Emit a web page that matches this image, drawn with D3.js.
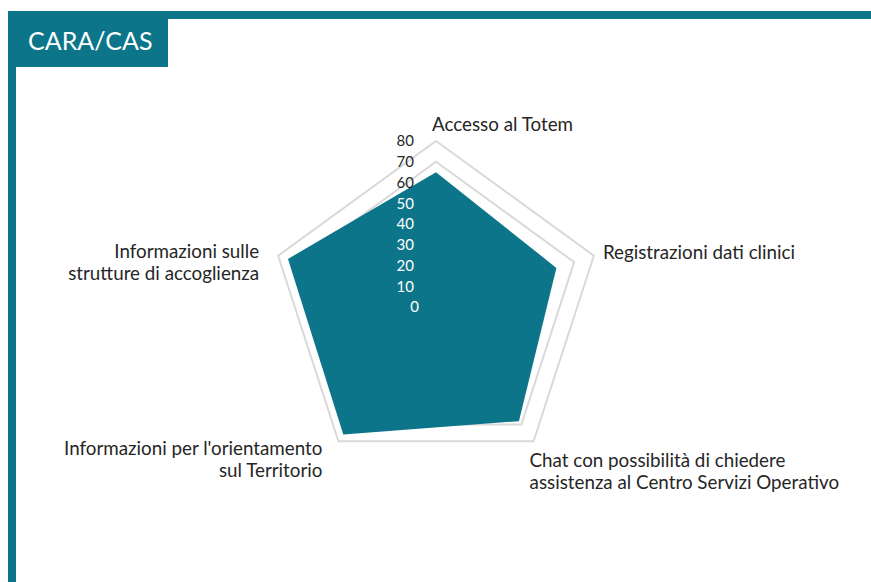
<!DOCTYPE html>
<html><head><meta charset="utf-8">
<script src="https://cdn.jsdelivr.net/npm/d3@7"></script>
<style>
html,body{margin:0;padding:0;background:#fff;}
svg{display:block;font-family:Lato,"Noto Sans",sans-serif;}
</style></head>
<body>
<svg id="c" width="871" height="582"></svg>
<script>
const title = "CARA/CAS";
const categories = [
  ["Accesso al Totem"],
  ["Registrazioni dati clinici"],
  ["Chat con possibilità di chiedere", "assistenza al Centro Servizi Operativo"],
  ["Informazioni per l'orientamento", "sul Territorio"],
  ["Informazioni sulle", "strutture di accoglienza"]
];
const values = [65, 61, 68, 76, 75];
const tickValues = [0, 10, 20, 30, 40, 50, 60, 70, 80];

const teal = "#0c7589";
const textCol = "#262626";
const svg = d3.select("#c");

// frame
svg.append("rect").attr("x", 8).attr("y", 11).attr("width", 863).attr("height", 8).attr("fill", teal);
svg.append("rect").attr("x", 8).attr("y", 11).attr("width", 8).attr("height", 571).attr("fill", teal);
svg.append("rect").attr("x", 8).attr("y", 11).attr("width", 160).attr("height", 56).attr("fill", teal);
svg.append("text").attr("x", 28).attr("y", 50).attr("fill", "#fff")
  .attr("font-size", 25).text(title);

const cx = 436, cy = 307;
const r = d3.scaleLinear().domain([0, 80]).range([0, 166]);
const n = categories.length;
const ang = i => i * 2 * Math.PI / n;
const pt = (i, v) => [cx + r(v) * Math.sin(ang(i)), cy - r(v) * Math.cos(ang(i))];

const g = svg.append("g");
// grid rings
tickValues.filter(t => t > 0).forEach(t => {
  g.append("polygon")
    .attr("points", d3.range(n).map(i => pt(i, t).join(",")).join(" "))
    .attr("fill", "none").attr("stroke", "#d9d9d9").attr("stroke-width", 2);
});
// data
g.append("polygon")
  .attr("points", values.map((v, i) => pt(i, v).join(",")).join(" "))
  .attr("fill", teal);

// tick labels
tickValues.forEach(t => {
  g.append("text")
    .attr("x", t === 0 ? cx - 17 : cx - 22)
    .attr("y", cy - r(t))
    .attr("dy", "0.35em")
    .attr("text-anchor", "end")
    .attr("font-size", 15)
    .attr("fill", t >= 60 ? textCol : "#ffffff")
    .text(t);
});

// category labels
const offs = [
  {dx: -4, dy: -10, anchor: "start"},
  {dx: 9, dy: 3, anchor: "start"},
  {dx: -4, dy: 26, anchor: "start"},
  {dx: -16, dy: 14, anchor: "end"},
  {dx: -19, dy: 2, anchor: "end"}
];
categories.forEach((lines, i) => {
  const [x, y] = pt(i, 80);
  const o = offs[i];
  const t = g.append("text")
    .attr("x", x + o.dx).attr("y", y + o.dy)
    .attr("text-anchor", o.anchor)
    .attr("font-size", 18.8).attr("fill", textCol);
  lines.forEach((l, k) => {
    t.append("tspan").attr("x", x + o.dx).attr("dy", k === 0 ? 0 : 22).text(l);
  });
});
</script>
</body></html>
